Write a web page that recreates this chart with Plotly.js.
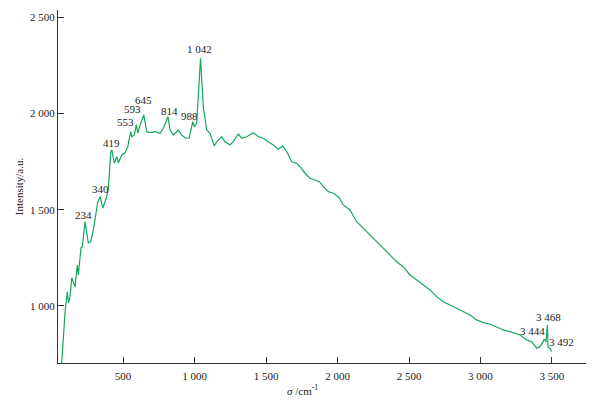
<!DOCTYPE html>
<html>
<head>
<meta charset="utf-8">
<script src="https://cdn.plot.ly/plotly-3.0.1.min.js"></script>
<style>html,body{margin:0;padding:0;background:#fff;}#chart{width:594px;height:401px;}</style>
</head>
<body>
<div id="chart"></div>
<script>
// Raman spectrum: wavenumber (cm-1) and intensity (a.u.)
const wavenumber = [70, 94, 110, 118, 129, 141, 152, 164, 180, 187, 206, 215, 234, 246, 257, 274, 292, 309, 323, 340, 358, 386, 397, 414, 421, 439, 456, 467, 491, 514, 533, 553, 561, 579, 593, 603, 619, 645, 666, 689, 724, 759, 782, 814, 829, 852, 887, 910, 938, 962, 988, 999, 1015, 1042, 1061, 1085, 1108, 1138, 1155, 1190, 1213, 1248, 1271, 1306, 1330, 1365, 1411, 1446, 1481, 1516, 1551, 1586, 1617, 1645, 1680, 1715, 1738, 1773, 1808, 1843, 1873, 1901, 1936, 1971, 2006, 2041, 2087, 2134, 2180, 2227, 2274, 2320, 2367, 2414, 2460, 2507, 2554, 2600, 2647, 2694, 2740, 2787, 2834, 2880, 2927, 2973, 3020, 3066, 3113, 3159, 3206, 3229, 3276, 3323, 3358, 3393, 3416, 3439, 3444, 3458, 3468, 3472, 3481, 3492, 3496];
const intensity = [690, 964, 1073, 1016, 1047, 1146, 1125, 1099, 1213, 1161, 1302, 1307, 1437, 1369, 1328, 1333, 1395, 1473, 1541, 1568, 1508, 1568, 1608, 1801, 1811, 1742, 1776, 1744, 1785, 1796, 1828, 1906, 1880, 1889, 1941, 1898, 1941, 1993, 1906, 1901, 1906, 1898, 1924, 1984, 1915, 1889, 1915, 1889, 1872, 1872, 1958, 1932, 1950, 2288, 2036, 1915, 1898, 1832, 1854, 1880, 1854, 1837, 1854, 1894, 1872, 1880, 1901, 1880, 1872, 1854, 1837, 1815, 1832, 1802, 1750, 1742, 1724, 1690, 1664, 1655, 1646, 1620, 1594, 1586, 1568, 1525, 1499, 1438, 1404, 1369, 1334, 1300, 1265, 1230, 1204, 1161, 1135, 1109, 1083, 1048, 1022, 1005, 988, 970, 953, 927, 913, 906, 892, 875, 866, 861, 849, 823, 814, 780, 788, 814, 827, 814, 901, 788, 779, 774, 762];

// Peak labels
const peakText = ["234", "340", "419", "553", "593", "645", "814", "988", "1 042", "3 468", "3 444", "3 492"];

// Axis ticks
const xTickVals = [500, 1000, 1500, 2000, 2500, 3000, 3500];
const xTickText = ["500", "1 000", "1 500", "2 000", "2 500", "3 000", "3 500"];
const yTickVals = [1000, 1500, 2000, 2500];
const yTickText = ["1 000", "1 500", "2 000", "2 500"];

// Label placement (data coordinates), kept apart from the data
const labelPos = [[224, 1473], [339, 1608], [421, 1848], [514, 1957], [568, 2024], [642, 2069], [822, 2014], [962, 1988], [1038, 2336], [3479, 943], [3367, 870], [3566, 813]];

const font = {family: "'Liberation Serif', serif", size: 11, color: "#222"};

const annotations = peakText.map((t, i) => ({
  x: labelPos[i][0], y: labelPos[i][1], xref: "x", yref: "y",
  text: t, showarrow: false, font: font, xanchor: "center", yanchor: "middle"
}));
annotations.push({
  xref: "paper", yref: "paper", x: (302 - 58) / 528, y: -0.077,
  text: "<i>σ</i> /cm<sup>-1</sup>", showarrow: false, font: font,
  xanchor: "center", yanchor: "middle"
});

const trace = {
  x: wavenumber, y: intensity, type: "scatter", mode: "lines",
  line: {color: "#14a85c", width: 1.2}, hoverinfo: "skip"
};

const layout = {
  width: 594, height: 401,
  margin: {l: 58, r: 8, t: 10, b: 38},
  paper_bgcolor: "#fff", plot_bgcolor: "#fff",
  showlegend: false,
  font: font,
  xaxis: {
    range: [45, 3738], tickvals: xTickVals, ticktext: xTickText,
    ticks: "inside", ticklen: 6, tickcolor: "#333", tickwidth: 1,
    showline: true, linecolor: "#333", linewidth: 1,
    showgrid: false, zeroline: false, tickfont: font, ticklabelstandoff: 3
  },
  yaxis: {
    range: [703, 2539], tickvals: yTickVals, ticktext: yTickText,
    ticks: "inside", ticklen: 6, tickcolor: "#333", tickwidth: 1,
    showline: true, linecolor: "#333", linewidth: 1,
    showgrid: false, zeroline: false, tickfont: font,
    title: {text: "Intensity/a.u.", font: font, standoff: 4}
  },
  annotations: annotations
};

Plotly.newPlot("chart", [trace], layout, {displayModeBar: false, staticPlot: true});
</script>
</body>
</html>
